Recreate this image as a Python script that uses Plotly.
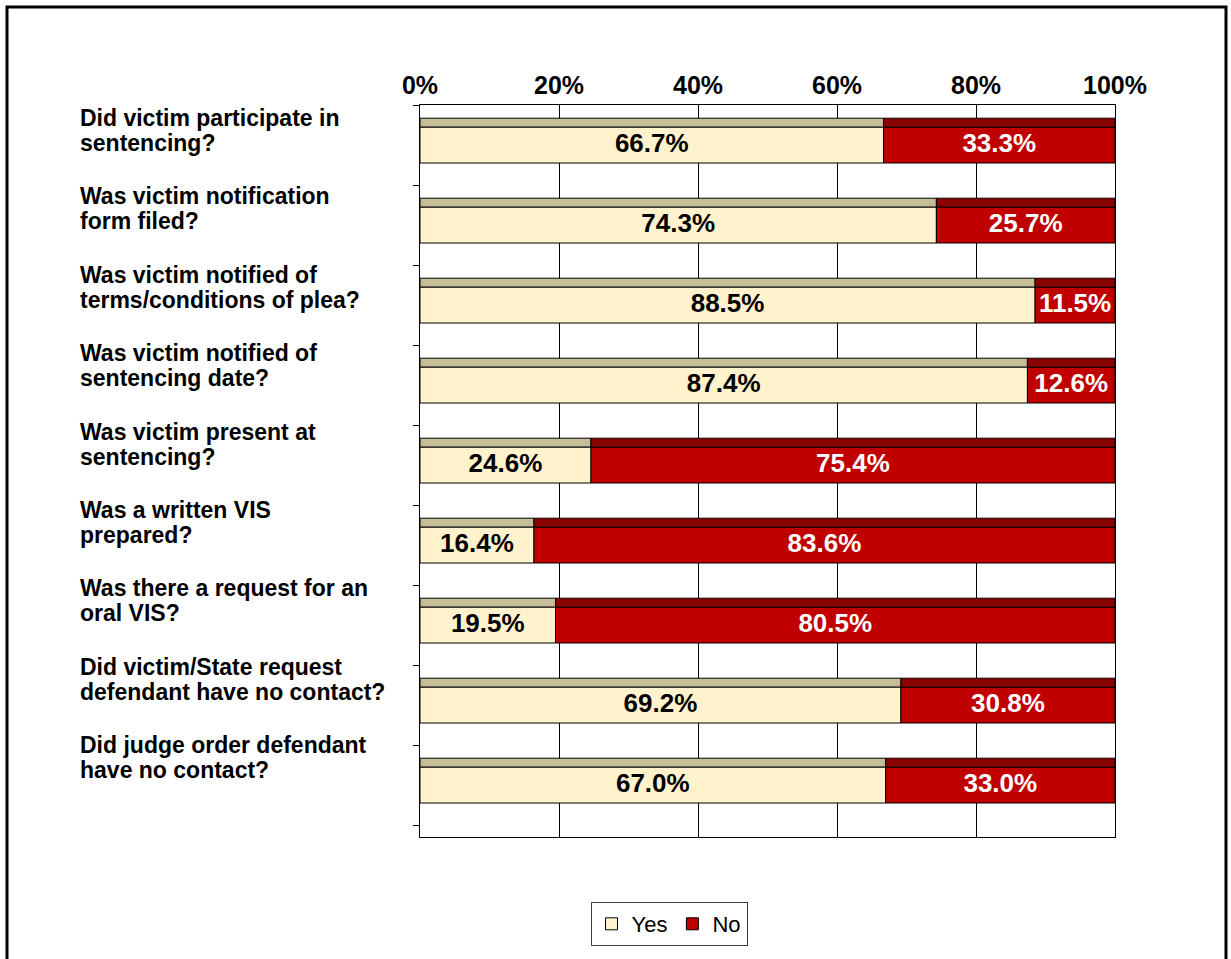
import plotly.graph_objects as go

# Survey questions (top to bottom) and the share of Yes / No answers, in percent
questions = [
    "Did victim participate in\nsentencing?",
    "Was victim notification\nform filed?",
    "Was victim notified of\nterms/conditions of plea?",
    "Was victim notified of\nsentencing date?",
    "Was victim present at\nsentencing?",
    "Was a written VIS\nprepared?",
    "Was there a request for an\noral VIS?",
    "Did victim/State request\ndefendant have no contact?",
    "Did judge order defendant\nhave no contact?",
]
yes_pct = [66.7, 74.3, 88.5, 87.4, 24.6, 16.4, 19.5, 69.2, 67.0]
no_pct = [33.3, 25.7, 11.5, 12.6, 75.4, 83.6, 80.5, 30.8, 33.0]
tick_values = [0, 20, 40, 60, 80, 100]

FONT = "Arial, 'Liberation Sans', sans-serif"
YES_FRONT, YES_TOP = "#FFF2CC", "#C4BD97"
NO_FRONT, NO_TOP = "#C00000", "#8B0000"

# pixel layout of the plotting area
W, H = 1231, 959
L, R, T, B = 420, 116, 105, 122
plot_w, plot_h = W - L - R, H - T - B

rows = list(range(len(questions)))
fig = go.Figure()

# front faces of the stacked bars
fig.add_bar(
    y=rows, x=yes_pct, base=[0] * len(rows), orientation="h",
    offset=-0.225, width=0.45, name="Yes",
    marker=dict(color=YES_FRONT, line=dict(color="black", width=1)),
    hovertemplate="%{x:.1f}%<extra>Yes</extra>",
)
fig.add_bar(
    y=rows, x=no_pct, base=yes_pct, orientation="h",
    offset=-0.225, width=0.45, name="No",
    marker=dict(color=NO_FRONT, line=dict(color="black", width=1)),
    hovertemplate="%{x:.1f}%<extra>No</extra>",
)
# darker top faces giving the bars a little depth
for vals, bases, col in ((yes_pct, [0] * len(rows), YES_TOP), (no_pct, yes_pct, NO_TOP)):
    fig.add_bar(
        y=rows, x=vals, base=bases, orientation="h",
        offset=-0.335, width=0.11, showlegend=False, hoverinfo="skip",
        marker=dict(color=col, line=dict(color="black", width=1)),
    )

# value labels centred on each segment
yes_mid = [v / 2 for v in yes_pct]
no_mid = [y + n / 2 for y, n in zip(yes_pct, no_pct)]
for mids, vals, col in ((yes_mid, yes_pct, "black"), (no_mid, no_pct, "white")):
    fig.add_scatter(
        x=mids, y=rows, mode="text", showlegend=False, hoverinfo="skip",
        text=[f"{v:.1f}%" for v in vals], textposition="middle center",
        textfont=dict(family=FONT, size=26, color=col, weight="bold"),
    )

# question labels, left aligned, one annotation per text line
to_px = lambda px: (px - L) / plot_w
annotations = []
for i, q in enumerate(questions):
    centre = 14.5 + 1.6 * i
    lines = q.split("\n")
    for j, line in enumerate(lines):
        annotations.append(dict(
            x=to_px(78), xref="paper", y=i, yref="y",
            xanchor="left", yanchor="middle", showarrow=False,
            yshift=centre + 12.5 - 25 * j,
            text=line, font=dict(family=FONT, size=23, color="black", weight="bold"),
        ))

# outer frame of the chart
py = lambda p: 1 - (p - T) / plot_h
shapes = [dict(
    type="rect", xref="paper", yref="paper",
    x0=to_px(7), x1=to_px(1226), y0=py(975), y1=py(7),
    line=dict(color="black", width=3), fillcolor="rgba(0,0,0,0)", layer="above",
)]

fig.update_layout(
    width=W, height=H, barmode="overlay",
    margin=dict(l=L, r=R, t=T, b=B),
    paper_bgcolor="white", plot_bgcolor="white",
    font=dict(family=FONT, color="black"),
    xaxis=dict(
        side="top", range=[0, 100], tickvals=tick_values,
        ticktext=[f"{v}%" for v in tick_values],
        tickfont=dict(family=FONT, size=25, color="black", weight="bold"),
        showgrid=True, gridcolor="black", gridwidth=1,
        showline=True, linecolor="black", linewidth=1, mirror=True,
        zeroline=False, ticks="",
    ),
    yaxis=dict(
        range=[len(rows) - 0.35, -0.5], showticklabels=False,
        tickvals=[r - 0.5 for r in rows] + [len(rows) - 0.5],
        ticks="outside", ticklen=6, tickcolor="black",
        showgrid=False, zeroline=False,
        showline=True, linecolor="black", linewidth=1, mirror=True,
    ),
    legend=dict(
        orientation="h", x=to_px(669), xanchor="center",
        y=py(924), yanchor="middle",
        bordercolor="#404040", borderwidth=1, bgcolor="white",
        font=dict(family=FONT, size=22, color="black"),
        itemwidth=30, traceorder="normal",
    ),
    annotations=annotations, shapes=shapes,
)

fig.write_html("out.html")
